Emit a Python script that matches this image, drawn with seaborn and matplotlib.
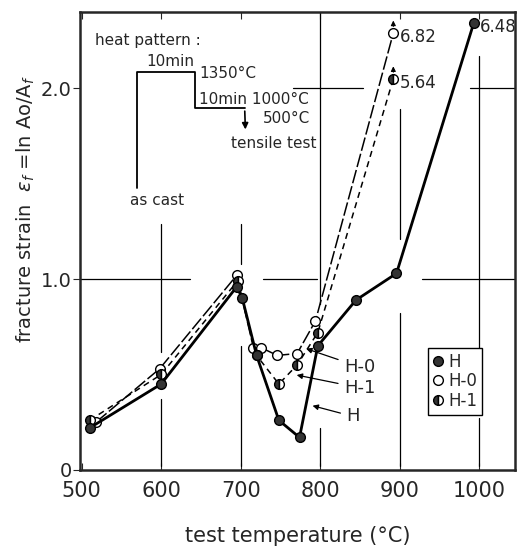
import numpy as np
import pandas as pd
import matplotlib
matplotlib.use("Agg")
import matplotlib.pyplot as plt
import seaborn as sns
from matplotlib.lines import Line2D

# datos
temp_H = [510, 600, 695, 702, 720, 748, 774, 797, 845, 896, 993]
eps_H = [0.22, 0.45, 0.96, 0.90, 0.60, 0.26, 0.17, 0.65, 0.89, 1.03, 2.34]

temp_H0 = [518, 598, 695, 716, 726, 746, 771, 794, 892]
eps_H0 = [0.25, 0.53, 1.02, 0.64, 0.64, 0.60, 0.61, 0.78, 2.29]

temp_H1 = [510, 600, 696, 720, 748, 771, 797, 892]
eps_H1 = [0.26, 0.50, 0.99, 0.60, 0.45, 0.55, 0.72, 2.05]

# valores reales de los puntos fuera de escala
fuera_texto = ["6.82", "5.64", "6.48"]

# esquema del tratamiento termico (dibujo dentro del grafico)
esquema_x = [569, 569, 643, 643, 706]
esquema_y = [1.48, 2.085, 2.085, 1.895, 1.895]

sns.set_style("ticks")
plt.rcParams['font.family'] = ['DejaVu Sans']

fig = plt.figure(figsize=(5.17, 5.47), dpi=100)
ax = fig.add_axes([0.155, 0.141, 0.841, 0.837])

# lineas de rejilla cortadas como en el original
vert = {600: [(0.62, 1.29), (0.02, 0.37)],
        700: [(1.08, 1.29), (0.02, 0.65)],
        800: [(0.87, 2.40), (0.02, 0.22)],
        900: [(1.21, 1.89), (0.02, 0.82)],
        1000: [(0.64, 2.17), (0.02, 0.27)]}
for xv, segs in vert.items():
    for a, b in segs:
        ax.plot([xv, xv], [a, b], color="black", lw=0.9, zorder=1)
horiz = {1.0: [(498, 636), (728, 796), (928, 1045)],
         2.0: [(766, 854), (989, 1045)]}
for yv, segs in horiz.items():
    for a, b in segs:
        ax.plot([a, b], [yv, yv], color="black", lw=0.9, zorder=1)

df_H = pd.DataFrame({"T": temp_H, "e": eps_H})
df_H0 = pd.DataFrame({"T": temp_H0, "e": eps_H0})
df_H1 = pd.DataFrame({"T": temp_H1, "e": eps_H1})

sns.lineplot(data=df_H, x="T", y="e", ax=ax, color="black", lw=2.0,
             marker="o", markersize=7, markerfacecolor="#333333",
             markeredgecolor="black", markeredgewidth=1, zorder=4)
sns.lineplot(data=df_H0, x="T", y="e", ax=ax, color="black", lw=1.1,
             linestyle=(0, (9, 2)), marker="o", markersize=7,
             markerfacecolor="white", markeredgecolor="black",
             markeredgewidth=1, zorder=3)
sns.lineplot(data=df_H1, x="T", y="e", ax=ax, color="black", lw=1.1,
             linestyle=(0, (4, 3)), marker="o", markersize=7, fillstyle="left",
             markerfacecolor="#333333", markerfacecoloralt="white",
             markeredgecolor="black", markeredgewidth=1, zorder=3)

# flechas hacia arriba y valores de los puntos fuera de escala
puntos_altos = [(temp_H0[-1], eps_H0[-1]), (temp_H1[-1], eps_H1[-1]),
                (temp_H[-1], eps_H[-1])]
for (tx, ty), txt in zip(puntos_altos, fuera_texto):
    ax.annotate("", xy=(tx, ty + 0.08), xytext=(tx, ty + 0.02),
                arrowprops=dict(arrowstyle="-|>", color="black", lw=0.8,
                                mutation_scale=7))
    ax.text(tx + 8, ty - 0.02, txt, fontsize=12, va="center", ha="left")

# etiquetas de las curvas
ax.annotate("H-0", xy=(779, 0.64), xytext=(830, 0.54), fontsize=13,
            va="center", arrowprops=dict(arrowstyle="-|>", color="black",
                                         lw=0.9, mutation_scale=8))
ax.annotate("H-1", xy=(767, 0.50), xytext=(830, 0.43), fontsize=13,
            va="center", arrowprops=dict(arrowstyle="-|>", color="black",
                                         lw=0.9, mutation_scale=8))
ax.annotate("H", xy=(787, 0.34), xytext=(833, 0.28), fontsize=13,
            va="center", arrowprops=dict(arrowstyle="-|>", color="black",
                                         lw=0.9, mutation_scale=8))

# esquema del tratamiento termico
ax.plot(esquema_x, esquema_y, color="black", lw=1.3)
ax.annotate("", xy=(706, 1.77), xytext=(705, 1.895),
            arrowprops=dict(arrowstyle="-|>", color="black", lw=1.2,
                            mutation_scale=9))
ax.text(517, 2.25, "heat pattern :", fontsize=11, va="center")
ax.text(612, 2.10, "10min", fontsize=11, ha="center", va="bottom")
ax.text(648, 2.08, "1350°C", fontsize=11, va="center")
ax.text(648, 1.94, "10min 1000°C", fontsize=11, va="center")
ax.text(787, 1.84, "500°C", fontsize=11, ha="right", va="center")
ax.text(688, 1.71, "tensile test", fontsize=11, va="center")
ax.text(595, 1.41, "as cast", fontsize=11, ha="center", va="center")

leyenda = [
    Line2D([], [], ls="none", marker="o", markersize=7, markerfacecolor="#333333",
           markeredgecolor="black", label="H"),
    Line2D([], [], ls="none", marker="o", markersize=7, markerfacecolor="white",
           markeredgecolor="black", label="H-0"),
    Line2D([], [], ls="none", marker="o", markersize=7, fillstyle="left",
           markerfacecolor="#333333", markerfacecoloralt="white",
           markeredgecolor="black", label="H-1"),
]
leg = ax.legend(handles=leyenda, loc="lower left", bbox_to_anchor=(0.80, 0.12),
                fontsize=12, frameon=True, fancybox=False, edgecolor="black",
                framealpha=1, handlelength=0.6, handletextpad=0.3,
                labelspacing=0.1, borderpad=0.3, borderaxespad=0)
leg.get_frame().set_linewidth(1.0)

ax.set_xlim(498, 1045)
ax.set_ylim(0, 2.40)
ax.set_xticks([500, 600, 700, 800, 900, 1000])
ax.set_yticks([0, 1.0, 2.0])
ax.set_yticklabels(["0", "1.0", "2.0"])
ax.tick_params(axis="x", direction="in", top=True, length=5, labelsize=15, pad=8)
ax.tick_params(axis="y", direction="out", length=5, labelsize=14, pad=1)

ax.set_xlabel("test temperature (°C)", fontsize=15, labelpad=18)
ax.set_ylabel(r"fracture strain  $\epsilon_f$ =ln Ao/A$_f$", fontsize=14)
ax.yaxis.set_label_coords(-0.10, 0.57)

for s in ax.spines.values():
    s.set_linewidth(1.8)
    s.set_visible(True)

plt.savefig("out.png", dpi=100)
